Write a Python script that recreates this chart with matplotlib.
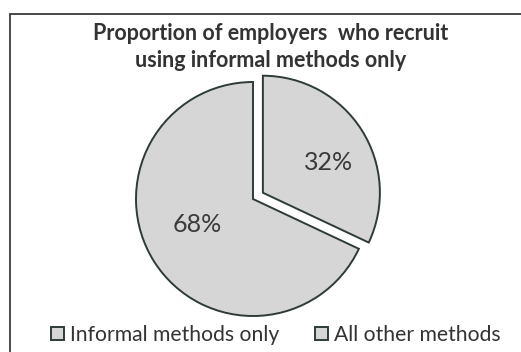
import matplotlib
matplotlib.use('Agg')
import numpy as np
import matplotlib.pyplot as plt
from matplotlib.patches import Rectangle

plt.rcParams['font.family'] = ['Lato', 'DejaVu Sans']

# data
labels = ["Informal methods only", "All other methods"]
shares = [32, 68]
explode = [0.1, 0.0]
title = "Proportion of employers  who recruit\nusing informal methods only"

W, H = 521, 352
fig = plt.figure(figsize=(W / 100, H / 100), dpi=100)
fig.patch.set_facecolor('white')

# frame around the chart (right / bottom edge run off the scan)
fig.patches.append(Rectangle((10 / W, -0.05), 1.1, 1.05 - 14 / H,
                             transform=fig.transFigure, fill=False,
                             edgecolor='#3a3a3a', linewidth=1.3))

# pie: centre ~ (253, 199) px from top, radius ~117 px
cx, cy, r = 253, H - 199, 117
ax = fig.add_axes([(cx - r) / W, (cy - r) / H, 2 * r / W, 2 * r / H])
wedges, texts, autotexts = ax.pie(
    shares, explode=explode, startangle=90, counterclock=False,
    colors=['#d6d6d6', '#d6d6d6'],
    wedgeprops=dict(edgecolor='#2e3b36', linewidth=1.4),
    autopct='%d%%', pctdistance=0.57,
    textprops=dict(color='#3a3a3a', fontsize=18))
for w in wedges:
    w.set_clip_on(False)

# label placement a bit like Excel's (slightly off the bisector)
for w, t, d in zip(wedges, autotexts, [0.62, 0.52]):
    mid = np.deg2rad((w.theta1 + w.theta2) / 2 - 8)
    t.set_position((w.center[0] + d * np.cos(mid), w.center[1] + d * np.sin(mid)))

ax.set_xlim(-1, 1)
ax.set_ylim(-1, 1)

fig.text(271 / W, 1 - 47 / H, title, ha='center', va='center',
         fontsize=15.5, fontweight='bold', color='#333333', linespacing=1.33)

fig.legend(wedges, labels, loc='center', bbox_to_anchor=(276 / W, 17 / H),
           ncol=2, frameon=False, fontsize=15.2, handlelength=0.6,
           handleheight=0.6, handletextpad=0.3, columnspacing=1.7,
           labelcolor='#333333')

fig.savefig('out.png', dpi=100)
